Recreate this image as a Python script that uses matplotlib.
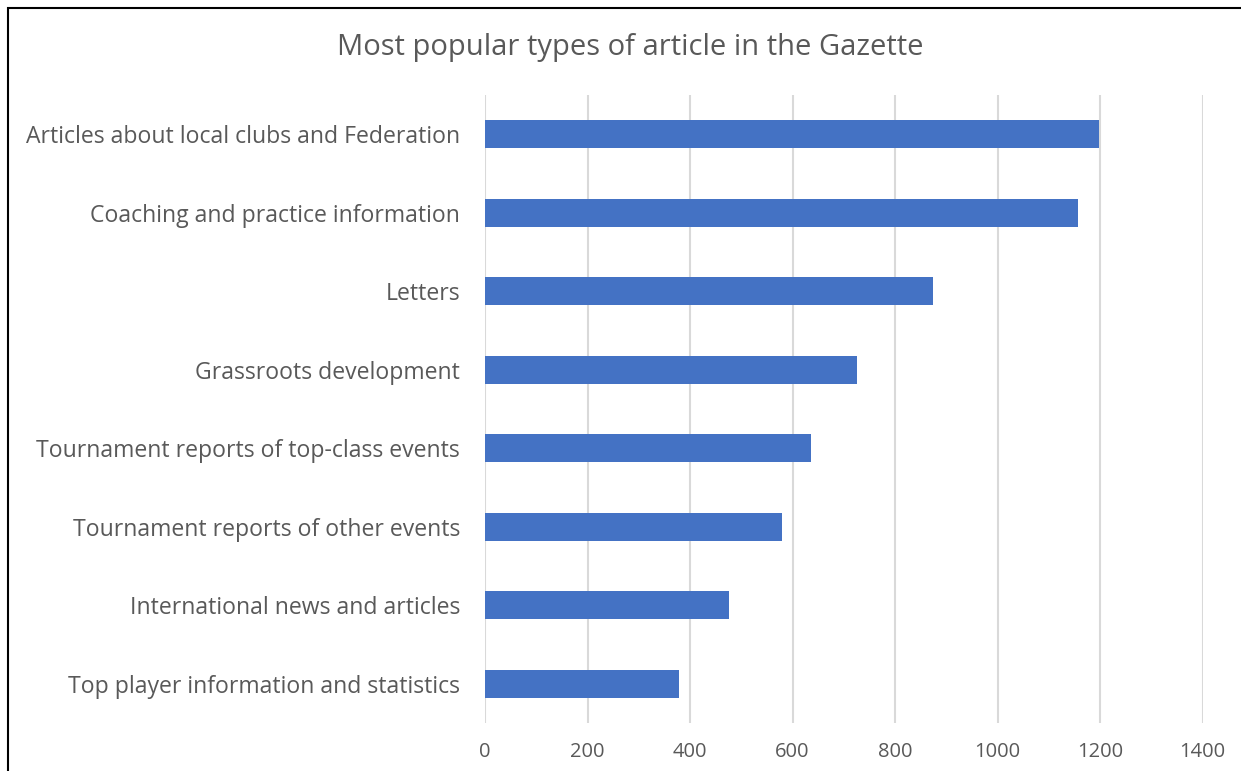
import matplotlib.pyplot as plt
from matplotlib.patches import Rectangle

# Dados do gráfico
categorias = [
    'Articles about local clubs and Federation',
    'Coaching and practice information',
    'Letters',
    'Grassroots development',
    'Tournament reports of top-class events',
    'Tournament reports of other events',
    'International news and articles',
    'Top player information and statistics',
]
valores = [1198, 1157, 874, 725, 636, 579, 476, 379]
ticks_x = [0, 200, 400, 600, 800, 1000, 1200, 1400]
titulo = 'Most popular types of article in the Gazette'

cor_barra = '#4472C4'
cor_texto = '#595959'
cor_grade = '#D9D9D9'

plt.rcParams['font.family'] = ['Open Sans', 'DejaVu Sans']

fig = plt.figure(figsize=(12.41, 7.71), dpi=100)
ax = fig.add_axes([485 / 1241, 1 - 723 / 771, 717.5 / 1241, 628 / 771])

posicoes = list(range(len(categorias)))
ax.barh(posicoes, valores, height=0.36, color=cor_barra, zorder=3)

ax.set_xlim(0, 1400)
ax.set_ylim(len(categorias) - 0.5, -0.5)
ax.set_xticks(ticks_x)
ax.set_xticklabels([str(t) for t in ticks_x])
ax.set_yticks(posicoes)
ax.set_yticklabels(categorias, fontsize=16.6)

ax.tick_params(axis='both', length=0, colors=cor_texto)
ax.tick_params(axis='x', labelsize=14.5, pad=14)
ax.tick_params(axis='y', pad=18)

ax.grid(axis='x', color=cor_grade, linewidth=1.5, zorder=0)
for lado in ax.spines.values():
    lado.set_visible(False)

fig.text(630 / 1241, 1 - 48 / 771, titulo, ha='center', va='center',
         fontsize=21, color=cor_texto)

# Moldura preta (cortada à direita e embaixo)
fig.patches.append(Rectangle((8 / 1241, -0.05), 1.1, 1 - 8 / 771 + 0.05,
                             transform=fig.transFigure, fill=False,
                             edgecolor='black', linewidth=1.5))

fig.savefig('out.png', dpi=100)
